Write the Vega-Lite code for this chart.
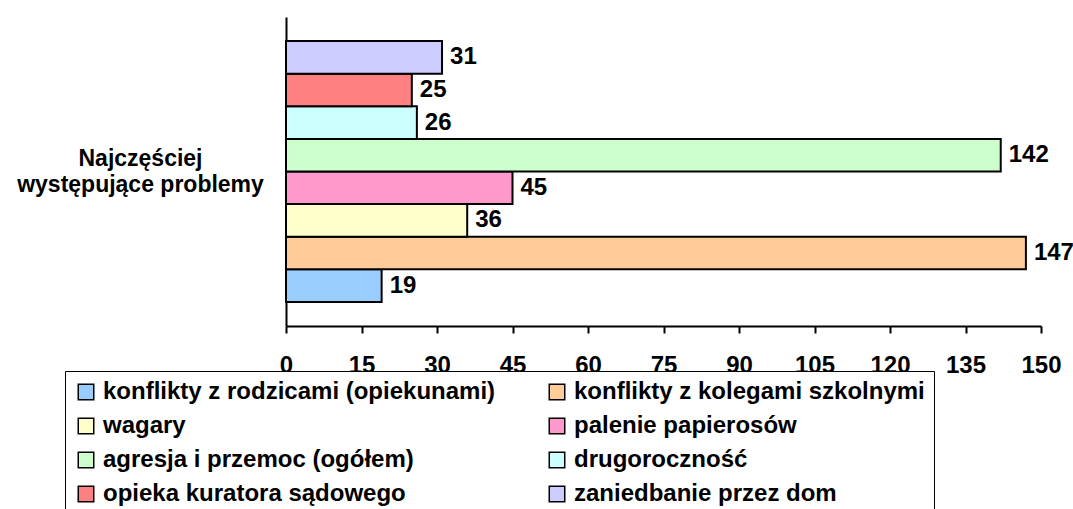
{
  "$schema": "https://vega.github.io/schema/vega-lite/v6.json",
  "autosize": {"type": "none"},
  "width": 755,
  "height": 309,
  "padding": {"left": 286, "top": 17, "right": 32, "bottom": 183},
  "background": "white",
  "config": {
    "font": "Liberation Sans",
    "view": {"stroke": null}
  },
  "data": {
    "values": [
      {"problem": "konflikty z rodzicami (opiekunami)", "value": 19},
      {"problem": "konflikty z kolegami szkolnymi", "value": 147},
      {"problem": "wagary", "value": 36},
      {"problem": "palenie papierosów", "value": 45},
      {"problem": "agresja i przemoc (ogółem)", "value": 142},
      {"problem": "drugoroczność", "value": 26},
      {"problem": "opieka kuratora sądowego", "value": 25},
      {"problem": "zaniedbanie przez dom", "value": 31}
    ]
  },
  "encoding": {
    "y": {
      "field": "problem",
      "type": "nominal",
      "sort": ["zaniedbanie przez dom", "opieka kuratora sądowego", "drugoroczność", "agresja i przemoc (ogółem)", "palenie papierosów", "wagary", "konflikty z kolegami szkolnymi", "konflikty z rodzicami (opiekunami)"],
      "scale": {"paddingInner": 0, "paddingOuter": 0.74},
      "axis": {
        "labels": false,
        "ticks": false,
        "domainColor": "black",
        "domainWidth": 2,
        "title": ["Najczęściej", "występujące problemy"],
        "titleAngle": 0,
        "titleAlign": "center",
        "titleBaseline": "middle",
        "titleX": -146,
        "titleY": 141,
        "titleFontSize": 23,
        "titleFontWeight": "bold",
        "titleLineHeight": 26,
        "titleColor": "black",
        "titleFont": "Liberation Sans"
      }
    },
    "x": {
      "field": "value",
      "type": "quantitative",
      "scale": {"domain": [0, 150], "nice": false},
      "axis": {
        "values": [0, 15, 30, 45, 60, 75, 90, 105, 120, 135, 150],
        "grid": false,
        "title": null,
        "domainColor": "black",
        "domainWidth": 2,
        "tickColor": "black",
        "tickWidth": 2,
        "tickSize": 7,
        "labelFontSize": 24,
        "labelFontWeight": "bold",
        "labelColor": "black",
        "labelPadding": 20,
        "labelFlush": false,
        "labelFont": "Liberation Sans"
      }
    }
  },
  "layer": [
    {
      "mark": {"type": "bar", "stroke": "black", "strokeWidth": 2},
      "encoding": {
        "color": {
          "field": "problem",
          "type": "nominal",
          "scale": {
            "domain": ["konflikty z rodzicami (opiekunami)", "konflikty z kolegami szkolnymi", "wagary", "palenie papierosów", "agresja i przemoc (ogółem)", "drugoroczność", "opieka kuratora sądowego", "zaniedbanie przez dom"],
            "range": ["#99CCFF", "#FFCC99", "#FFFFCC", "#FF99CC", "#CCFFCC", "#CCFFFF", "#FF8080", "#CCCCFF"]
          },
          "legend": {
            "orient": "none",
            "legendX": -221,
            "legendY": 354,
            "direction": "horizontal",
            "columns": 2,
            "title": null,
            "fillColor": "white",
            "strokeColor": "black",
            "padding": 9,
            "symbolType": "square",
            "symbolSize": 240,
            "symbolStrokeColor": "black",
            "symbolStrokeWidth": 1.5,
            "symbolOpacity": 1,
            "labelFontSize": 24,
            "labelFontWeight": "bold",
            "labelColor": "black",
            "labelFont": "Liberation Sans",
            "labelOffset": 5,
            "labelLimit": 600,
            "columnPadding": 49,
            "rowPadding": 10
          }
        }
      }
    },
    {
      "mark": {"type": "text", "align": "left", "baseline": "middle", "dx": 8, "fontSize": 24, "fontWeight": "bold", "color": "black", "font": "Liberation Sans"},
      "encoding": {
        "text": {"field": "value", "type": "quantitative"}
      }
    }
  ]
}
